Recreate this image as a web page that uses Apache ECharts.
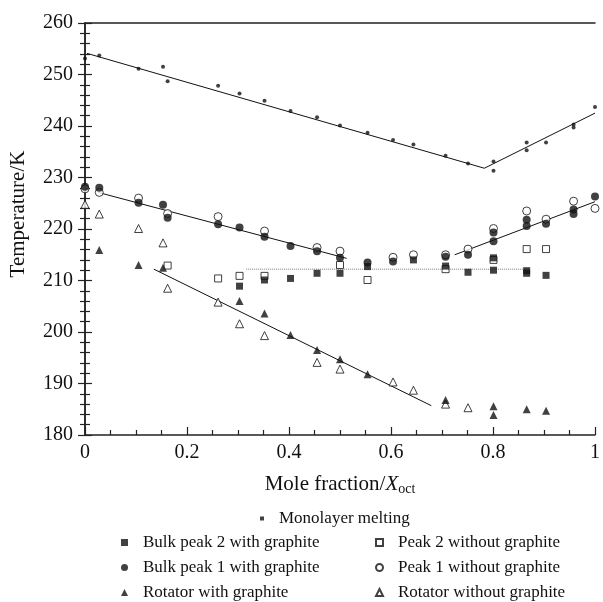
<!DOCTYPE html>
<html><head><meta charset="utf-8">
<script src="https://cdn.jsdelivr.net/npm/echarts@6/dist/echarts.min.js"></script>
<style>html,body{margin:0;padding:0;background:#fff}#c{width:603px;height:602px}</style>
</head><body><div id="c"></div>
<script>
// ---- data ----
const xMono = [0.0,0.028,0.105,0.153,0.162,0.261,0.303,0.352,0.403,0.455,0.50,0.554,0.604,0.644,0.707,0.751,0.801,0.801,0.866,0.866,0.904,0.958,0.958,1.0];
const yMono = [253.1,253.7,251.1,251.5,248.7,247.8,246.3,244.9,242.9,241.7,240.1,238.7,237.3,236.4,234.2,232.7,233.1,231.3,236.8,235.3,236.8,240.3,239.7,243.7];

const xBulk2 = [0.303,0.352,0.403,0.455,0.50,0.554,0.644,0.707,0.751,0.801,0.801,0.866,0.866,0.904];
const yBulk2 = [208.9,210.1,210.4,211.4,211.4,212.7,214.0,212.8,211.6,214.4,212.0,211.9,211.4,211.0];

const xPeak2 = [0.162,0.261,0.303,0.352,0.50,0.554,0.707,0.801,0.866,0.904];
const yPeak2 = [212.9,210.4,210.9,210.9,213.0,210.1,212.2,214.0,216.1,216.1];

const xBulk1 = [0,0.028,0.105,0.153,0.162,0.261,0.303,0.352,0.403,0.455,0.50,0.554,0.604,0.707,0.751,0.801,0.801,0.866,0.866,0.904,0.958,0.958,1.0];
const yBulk1 = [228.2,228.0,225.1,224.7,222.2,220.9,220.3,218.5,216.7,215.7,214.4,213.5,213.7,214.6,215.0,219.3,217.6,221.8,220.6,221.0,223.8,222.9,226.3];

const xPeak1 = [0,0.028,0.105,0.162,0.261,0.352,0.455,0.50,0.604,0.644,0.707,0.751,0.801,0.866,0.904,0.958,1.0];
const yPeak1 = [227.8,227.1,226.0,223.0,222.4,219.6,216.4,215.7,214.5,215.0,215.0,216.1,220.1,223.5,221.9,225.4,224.0];

const xRotG = [0.028,0.105,0.153,0.303,0.352,0.403,0.455,0.50,0.554,0.707,0.801,0.801,0.866,0.904];
const yRotG = [215.9,213.0,212.5,206.0,203.6,199.4,196.5,194.7,191.8,186.8,185.6,183.9,185.0,184.7];

const xRot = [0,0.028,0.105,0.153,0.162,0.261,0.303,0.352,0.455,0.50,0.604,0.644,0.707,0.751];
const yRot = [224.8,222.9,220.1,217.3,208.5,205.8,201.6,199.3,194.1,192.8,190.3,188.7,186.0,185.3];

// fitted guide lines
const xMonoFit = [0.004,0.783,1.0];   const yMonoFit = [254.1,231.8,242.5];
const xP1FitA = [0.026,0.513];        const yP1FitA = [227.1,214.3];
const xP1FitB = [0.725,1.0];          const yP1FitB = [215.0,225.3];
const xP2Fit = [0.316,0.870];         const yP2Fit = [212.2,212.2];
const xRotFit = [0.135,0.679];        const yRotFit = [212.2,185.7];

const xTicks = [0,0.2,0.4,0.6,0.8,1];
const yTicks = [180,190,200,210,220,230,240,250,260];

const namesA = ['Monolayer melting'];
const namesB = ['Bulk peak 2 with graphite','Bulk peak 1 with graphite','Rotator with graphite'];
const namesC = ['Peak 2 without graphite','Peak 1 without graphite','Rotator without graphite'];

// ---- build ----
const zip = (xs, ys) => xs.map((x, i) => [x, ys[i]]);
const FONT = 'Liberation Serif';
const filled = {color:'#111', borderColor:'#111', borderWidth:0};
const open = {color:'#fff', borderColor:'#111', borderWidth:1};

function scatter(name, xs, ys, symbol, size, style, z) {
  return {type:'scatter', name, data: zip(xs, ys), symbol, symbolSize: size,
    itemStyle: style, z, silent:true, animation:false};
}
function fit(xs, ys, lineType, color) {
  return {type:'line', data: zip(xs, ys), symbol:'none', z:1, silent:true, animation:false,
    lineStyle:{color: color || '#111', width:1, type: lineType || 'solid'}};
}

const axisLine = {show:true, lineStyle:{color:'#222', width:1.5}};
const legendText = {fontFamily:FONT, fontSize:17, color:'#111', lineHeight:17, padding:[0,0,0,10]};

const option = {
  backgroundColor:'#fff',
  animation:false,
  grid:{left:83, right:2, top:23, bottom:167, containLabel:false},
  xAxis:[{
    type:'value', min:0, max:1, interval:0.2, position:'bottom',
    axisLine, splitLine:{show:false},
    axisTick:{show:true, inside:true, length:8, lineStyle:{color:'#222', width:1.2}},
    minorTick:{show:true, splitNumber:4, length:5, lineStyle:{color:'#222', width:1.2}},
    axisLabel:{fontFamily:FONT, fontSize:20, color:'#111', margin:8,
      customValues: xTicks, formatter: v => String(+v.toFixed(1))},
    name:'{a|Mole fraction/}{i|X}{s|oct}', nameLocation:'middle', nameGap:37,
    nameTextStyle:{rich:{
      a:{fontFamily:FONT, fontSize:21, color:'#111'},
      i:{fontFamily:FONT, fontSize:21, fontStyle:'italic', color:'#111'},
      s:{fontFamily:FONT, fontSize:14, color:'#111', padding:[10,0,0,0]}
    }}
  },{
    type:'value', min:0, max:1, position:'top', axisLine,
    axisTick:{show:false}, axisLabel:{show:false}, splitLine:{show:false}
  }],
  yAxis:[{
    type:'value', min:180, max:260, interval:10, position:'left',
    axisLine, splitLine:{show:false},
    axisTick:{show:true, inside:true, length:7, lineStyle:{color:'#222', width:1.2}},
    minorTick:{show:true, splitNumber:5, length:5, lineStyle:{color:'#222', width:1.2}},
    axisLabel:{fontFamily:FONT, fontSize:20, color:'#111', margin:12, customValues: yTicks},
    name:'Temperature/K', nameLocation:'middle', nameGap:56, nameRotate:90,
    nameTextStyle:{fontFamily:FONT, fontSize:21, color:'#111', padding:[0,0,0,30]}
  },{
    type:'value', min:180, max:260, interval:10, position:'right',
    axisLine, splitLine:{show:false}, axisLabel:{show:false},
    axisTick:{show:true, inside:true, length:7, lineStyle:{color:'#222', width:1.2}},
    minorTick:{show:true, splitNumber:5, length:5, lineStyle:{color:'#222', width:1.2}}
  }],
  legend:[{
    data: namesA, orient:'vertical', left:260, top:510, padding:0, itemWidth:4, itemHeight:4,
    icon:'rect', textStyle: legendText, selectedMode:false
  },{
    data: namesB, orient:'vertical', left:121, top:534, padding:0, itemWidth:7, itemHeight:7, itemGap:8,
    textStyle: legendText, selectedMode:false
  },{
    data: namesC, orient:'vertical', left:375, top:534, padding:0, itemWidth:7, itemHeight:7, itemGap:8,
    textStyle: legendText, selectedMode:false
  }],
  series:[
    fit(xMonoFit, yMonoFit),
    fit(xP1FitA, yP1FitA),
    fit(xP1FitB, yP1FitB),
    fit(xP2Fit, yP2Fit, 'dotted', '#777'),
    fit(xRotFit, yRotFit),
    scatter(namesC[0], xPeak2, yPeak2, 'rect', 7, open, 2),
    scatter(namesC[1], xPeak1, yPeak1, 'circle', 8, open, 2),
    scatter(namesC[2], xRot, yRot, 'triangle', 8, open, 2),
    scatter(namesB[0], xBulk2, yBulk2, 'rect', 7, filled, 3),
    scatter(namesB[1], xBulk1, yBulk1, 'circle', 8, filled, 3),
    scatter(namesB[2], xRotG, yRotG, 'triangle', 8, filled, 3),
    scatter(namesA[0], xMono, yMono, 'circle', 4, filled, 3)
  ]
};
const chart = echarts.init(document.getElementById('c'), null, {renderer:'canvas'});
chart.setOption(option);
</script></body></html>
